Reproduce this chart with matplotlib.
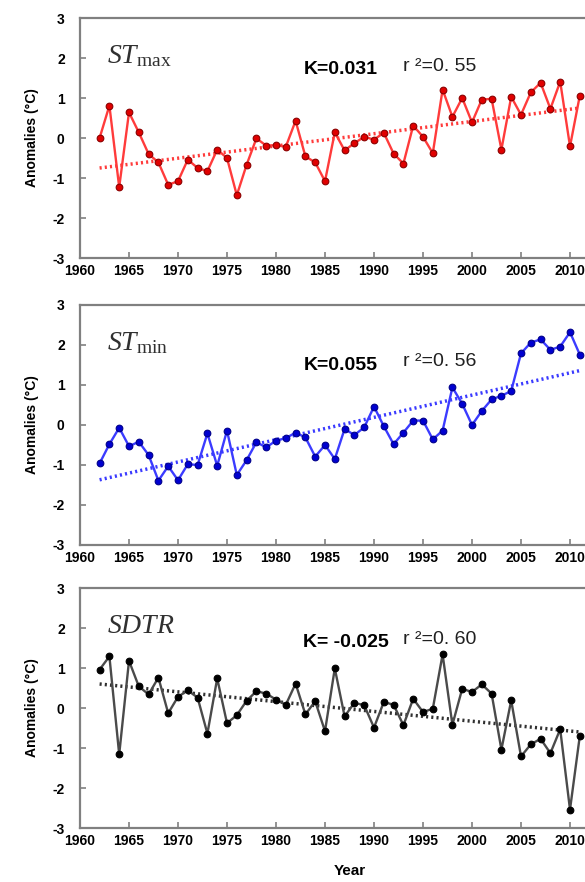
"""Surface temperature anomalies, three stacked panels."""

import matplotlib
matplotlib.use('Agg')
import matplotlib.pyplot as plt
import numpy as np

plt.rcParams['font.family'] = ['Liberation Sans', 'DejaVu Sans']
plt.rcParams['axes.unicode_minus'] = False
plt.rcParams['mathtext.fontset'] = 'custom'
plt.rcParams['mathtext.it'] = 'Liberation Serif:italic'
plt.rcParams['mathtext.rm'] = 'Liberation Serif'

years = np.arange(1962, 2012)

st_max = [0.00, 0.81, -1.23, 0.64, 0.14, -0.40, -0.61, -1.17, -1.08, -0.54,
          -0.75, -0.83, -0.29, -0.50, -1.43, -0.67, -0.01, -0.19, -0.18, -0.22,
          0.43, -0.46, -0.61, -1.08, 0.14, -0.31, -0.13, 0.03, -0.04, 0.13,
          -0.39, -0.64, 0.31, 0.03, -0.38, 1.21, 0.53, 1.00, 0.39, 0.96,
          0.98, -0.29, 1.03, 0.58, 1.14, 1.38, 0.73, 1.41, -0.21, 1.06]

st_min = [-0.96, -0.48, -0.07, -0.53, -0.42, -0.75, -1.39, -1.03, -1.38, -0.98,
          -1.00, -0.21, -1.02, -0.14, -1.25, -0.88, -0.43, -0.56, -0.39, -0.33,
          -0.19, -0.31, -0.79, -0.50, -0.85, -0.10, -0.25, -0.06, 0.46, -0.03,
          -0.48, -0.19, 0.11, 0.11, -0.36, -0.14, 0.94, 0.53, 0.00, 0.35,
          0.64, 0.73, 0.85, 1.79, 2.06, 2.14, 1.88, 1.96, 2.32, 1.76]

sdtr = [0.96, 1.29, -1.16, 1.18, 0.54, 0.34, 0.76, -0.13, 0.28, 0.44,
        0.26, -0.64, 0.74, -0.38, -0.18, 0.18, 0.42, 0.36, 0.21, 0.08,
        0.61, -0.16, 0.17, -0.58, 0.99, -0.21, 0.13, 0.07, -0.49, 0.15,
        0.08, -0.43, 0.23, -0.10, -0.02, 1.34, -0.42, 0.48, 0.40, 0.59,
        0.36, -1.04, 0.19, -1.21, -0.91, -0.77, -1.13, -0.53, -2.54, -0.70]

# trend line end values
trend_max = [-0.75, 0.75]
trend_min = [-1.37, 1.36]
trend_dtr = [0.60, -0.60]

panels = [
    (st_max, trend_max, r'$\mathit{ST}_{\mathrm{max}}$', 'K=0.031', '0. 55',
     '#ff3b3b', '#e00000', '#8b0000', '#ff3b3b', 1.71),
    (st_min, trend_min, r'$\mathit{ST}_{\mathrm{min}}$', 'K=0.055', '0. 56',
     '#3b3bff', '#0000d0', '#00008b', '#3b3bff', 1.50),
    (sdtr, trend_dtr, r'$\mathit{SDTR}$', 'K= -0.025', '0. 60',
     '#4a4a4a', '#000000', '#000000', '#303030', 1.63),
]

W, H = 585, 882
fig = plt.figure(figsize=(W / 100, H / 100), dpi=100)

tops = [18, 305, 588]
for (vals, trend, name, ktxt, r2, lc, mfc, mec, tc, ty), top in zip(panels, tops):
    ax = fig.add_axes([80 / W, 1 - (top + 240) / H, 539 / W, 240 / H])
    ax.plot(years, vals, color=lc, lw=1.7, marker='o', ms=4.8,
            mfc=mfc, mec=mec, mew=0.8, zorder=3)
    ax.plot([years[0], years[-1]], trend, color=tc, lw=2.5,
            linestyle=(0, (0.6, 0.9)), zorder=2)

    ax.set_xlim(1960, 2015)
    ax.set_ylim(-3, 3)
    ax.set_xticks(np.arange(1960, 2015, 5))
    ax.set_yticks(np.arange(-3, 4, 1))
    ax.tick_params(axis='x', direction='in', length=4, width=1.2,
                   color='#808080', labelsize=10, pad=4)
    ax.tick_params(axis='y', direction='in', length=4, width=1.2,
                   color='#808080', labelsize=10, pad=11)
    for lab in ax.get_xticklabels() + ax.get_yticklabels():
        lab.set_fontweight('bold')
    for sp in ax.spines.values():
        sp.set_color('#808080')
        sp.set_linewidth(1.6)
    ax.set_ylabel('Anomalies (\u00b0C)', fontsize=10, fontweight='bold',
                  labelpad=10)

    ax.text(1962.8, 2.05, name, fontsize=20, color='#303030',
            ha='left', va='center')
    ax.text(1982.8, ty, ktxt, fontsize=14, fontweight='bold',
            ha='left', va='center')
    ax.text(1993.0, ty + 0.08, 'r \u00b2=' + r2, fontsize=14,
            ha='left', va='center', color='#202020')

    if top == tops[-1]:
        ax.set_xlabel('Year', fontsize=11, fontweight='bold', labelpad=12)

fig.savefig('out.png', dpi=100)
